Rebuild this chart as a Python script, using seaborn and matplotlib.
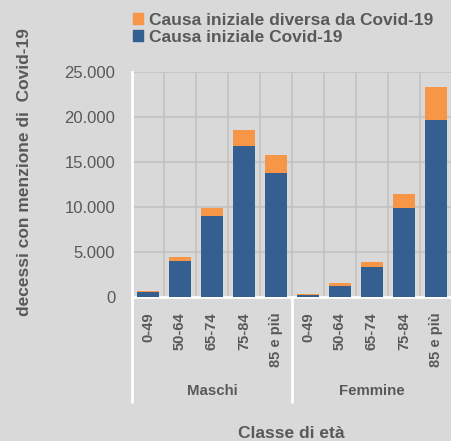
import pandas as pd
import seaborn as sns
import matplotlib.pyplot as plt
from matplotlib.patches import Patch
from matplotlib.ticker import FuncFormatter, MultipleLocator

# -----------------------------
# Data (decessi con menzione di Covid-19)
# -----------------------------
classi = ["0-49", "50-64", "65-74", "75-84", "85 e più"]
gruppi = ["Maschi", "Femmine"]
maschi_covid = [550, 3950, 9000, 16750, 13800]
maschi_altra = [150, 450, 900, 1750, 1950]
femmine_covid = [250, 1250, 3350, 9900, 19700]
femmine_altra = [100, 300, 550, 1550, 3650]

lab_covid = "Causa iniziale Covid-19"
lab_altra = "Causa iniziale diversa da Covid-19"

rows = []
for g, cov, alt in [("Maschi", maschi_covid, maschi_altra), ("Femmine", femmine_covid, femmine_altra)]:
    for c, v1, v2 in zip(classi, cov, alt):
        rows.append({"key": g + "|" + c, "classe": c, "gruppo": g, "covid": v1, "totale": v1 + v2})
df = pd.DataFrame(rows)
order = list(df["key"])

# -----------------------------
# Style
# -----------------------------
BG = "#d9d9d9"
TXT = "#595959"
BLUE = "#365f91"
ORANGE = "#f79646"

sns.set_style("white", {"axes.facecolor": BG, "figure.facecolor": BG})
plt.rcParams["font.family"] = ["Liberation Sans", "DejaVu Sans"]

fig = plt.figure(figsize=(4.51, 4.41), dpi=100)
ax = fig.add_axes([132 / 451, 144 / 441, 320 / 451, 225 / 441])

# stacked bars: total (orange) behind, Covid (blue) in front
sns.barplot(data=df, x="key", y="totale", order=order, color=ORANGE, width=0.68,
            saturation=1, linewidth=0, ax=ax, zorder=3)
sns.barplot(data=df, x="key", y="covid", order=order, color=BLUE, width=0.68,
            saturation=1, linewidth=0, ax=ax, zorder=4)

ax.set_xlim(-0.5, len(order) - 0.5)
ax.set_ylim(0, 25000)
ax.yaxis.set_major_locator(MultipleLocator(5000))
ax.yaxis.set_major_formatter(FuncFormatter(lambda v, p: f"{int(v):,}".replace(",", ".")))
ax.set_xticks(range(len(order)))
ax.set_xticklabels(list(df["classe"]), rotation=90, fontsize=10.5, fontweight="bold", color=TXT)
ax.xaxis.set_minor_locator(MultipleLocator(1, offset=0.5))
ax.tick_params(axis="x", which="both", length=0, pad=11)
ax.tick_params(axis="y", length=6, width=1.5, color="white", pad=6, labelsize=12, labelcolor=TXT)

ax.grid(axis="y", which="major", color="#c3c3c3", lw=1.2, zorder=0)
ax.grid(axis="x", which="minor", color="#c3c3c3", lw=1.2, zorder=0)
ax.set_axisbelow(True)
ax.set_xlabel("")
ax.set_ylabel("")

for s in ["top", "right"]:
    ax.spines[s].set_visible(False)
for s in ["left", "bottom"]:
    ax.spines[s].set_color("white")
    ax.spines[s].set_linewidth(2)

# group separators under the axis
for xs in [-0.5, 4.5, 9.5]:
    ax.plot([xs, xs], [0, -105 / 225], color="white", lw=2, clip_on=False,
            transform=ax.get_xaxis_transform(), zorder=5)

for i, g in enumerate(gruppi):
    ax.text(2 + 5 * i, -94 / 225, g, transform=ax.get_xaxis_transform(), ha="center", va="center",
            fontsize=10.8, fontweight="bold", color=TXT)

fig.text(291.5 / 451, 1 - 433 / 441, "Classe di età", ha="center", va="center",
         fontsize=12.5, fontweight="bold", color=TXT)
fig.text(25 / 451, 1 - 172 / 441, "decessi con menzione di  Covid-19", rotation=90,
         ha="center", va="center", fontsize=12.5, fontweight="bold", color=TXT)

handles = [Patch(color=ORANGE), Patch(color=BLUE)]
fig.legend(handles, [lab_altra, lab_covid], loc="upper left", bbox_to_anchor=(133 / 451, 1 - 13 / 441),
           frameon=False, prop={"size": 12.5, "weight": "bold"}, labelcolor=TXT,
           handlelength=0.58, handleheight=0.58, handletextpad=0.35, labelspacing=0.1,
           borderpad=0, borderaxespad=0)

fig.savefig("out.png", dpi=100, facecolor=BG)
